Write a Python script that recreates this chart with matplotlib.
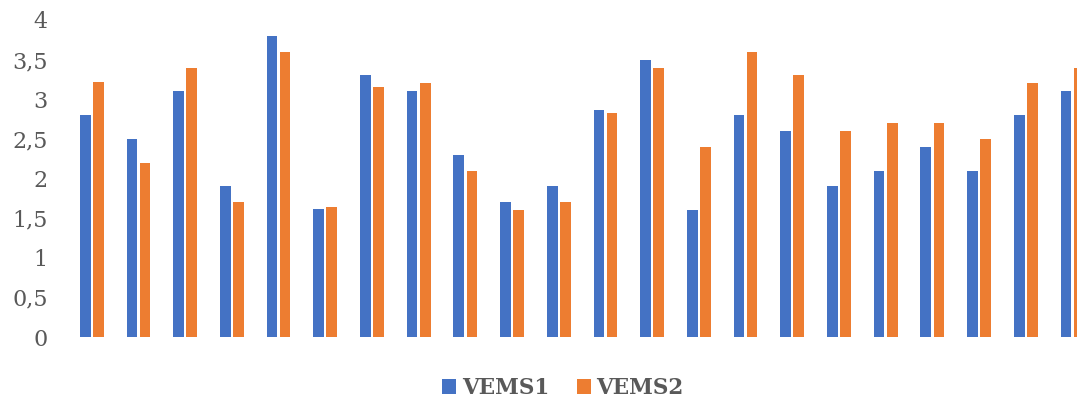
import numpy as np
import matplotlib
matplotlib.use("Agg")
import matplotlib.pyplot as plt
from matplotlib.ticker import FuncFormatter, MultipleLocator

# values
groups = np.arange(22)
vems1 = [2.8, 2.5, 3.1, 1.9, 3.8, 1.62, 3.3, 3.1, 2.3, 1.7, 1.9,
         2.87, 3.5, 1.6, 2.8, 2.6, 1.9, 2.1, 2.4, 2.1, 2.8, 3.1]
vems2 = [3.22, 2.2, 3.4, 1.7, 3.6, 1.64, 3.15, 3.2, 2.1, 1.6, 1.7,
         2.83, 3.4, 2.4, 3.6, 3.3, 2.6, 2.7, 2.7, 2.5, 3.2, 3.4]
series_names = ["VEMS1", "VEMS2"]

blue = "#4472C4"
orange = "#ED7D31"
grey = "#595959"

plt.rcParams["font.family"] = ["DejaVu Serif"]

fig = plt.figure(figsize=(10.77, 3.98), dpi=100)
# plot area runs past the right edge of the picture, like the reference crop
ax = fig.add_axes([68.4 / 1077, 1 - 337 / 398, 22 * 46.7 / 1077, (337 - 20) / 398])

w = 0.23
ax.bar(groups - 0.14, vems1, width=w, color=blue, label=series_names[0])
ax.bar(groups + 0.14, vems2, width=w, color=orange, label=series_names[1])

ax.set_xlim(-0.5, len(groups) - 0.5)
ax.set_ylim(0, 4)
ax.yaxis.set_major_locator(MultipleLocator(0.5))
ax.yaxis.set_major_formatter(FuncFormatter(lambda v, p: ("%g" % v).replace(".", ",")))
ax.set_xticks([])
ax.tick_params(axis="y", length=0, pad=15, labelsize=16, labelcolor=grey)
for s in ax.spines.values():
    s.set_visible(False)

fig.legend(loc="center", bbox_to_anchor=(563 / 1077, 1 - 388 / 398), ncol=2,
           frameon=False, handlelength=0.65, handleheight=0.65, handletextpad=0.25,
           columnspacing=1.3, prop={"weight": "bold", "size": 15.5}, labelcolor=grey)

fig.savefig("out.png", dpi=100)
